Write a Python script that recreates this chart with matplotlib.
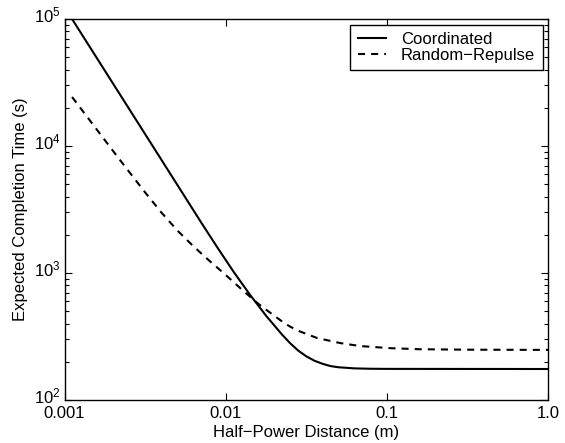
import matplotlib
matplotlib.use("Agg")
import matplotlib.pyplot as plt
from matplotlib.ticker import FixedLocator, FixedFormatter, LogLocator, NullLocator
from matplotlib.transforms import ScaledTranslation

plt.rcParams['font.family'] = ['Liberation Sans', 'DejaVu Sans']
plt.rcParams['mathtext.default'] = 'regular'

# Data
coord_x = [0.001114, 0.001995, 0.003162, 0.005012, 0.007079, 0.008913, 0.01122, 0.01413,
           0.01778, 0.02239, 0.02512, 0.02818, 0.03162, 0.03548, 0.03981, 0.04467,
           0.05012, 0.06310, 0.07943, 0.1, 1.0]
coord_y = [100000, 31190, 12420, 4943, 2477, 1578, 1019, 676,
           462, 327, 280, 245, 221, 204, 193, 185,
           181, 177.4, 176.2, 175.8, 175.4]

rand_x = [0.001114, 0.001585, 0.002208, 0.003162, 0.003981, 0.005012, 0.006310, 0.007943,
          0.01, 0.01259, 0.01585, 0.01995, 0.02259, 0.02512, 0.02884, 0.03681,
          0.05117, 0.06808, 0.1045, 0.1603, 0.3162, 1.0]
rand_y = [24320, 13490, 7762, 4315, 3006, 2163, 1622, 1245,
          966, 741, 575, 462, 412, 378, 347, 308,
          281, 266, 256, 251, 249, 248]

x_ticks = [0.001, 0.01, 0.1, 1.0]
x_tick_labels = ["0.001", "0.01", "0.1", "1.0"]
y_ticks = [1e2, 1e3, 1e4, 1e5]
y_tick_labels = [r"$10^{2}$", r"$10^{3}$", r"$10^{4}$", r"$10^{5}$"]

fig = plt.figure(figsize=(5.65, 4.43), dpi=100)
ax = fig.add_axes([64.5/565, 43/443, (548-64.5)/565, (400-19)/443])

ax.loglog(coord_x, coord_y, color='black', linewidth=1.5, linestyle='-', label='Coordinated')
ax.loglog(rand_x, rand_y, color='black', linewidth=1.5, linestyle=(0, (3.4, 2.9)),
          label='Random\u2212Repulse')

ax.set_xlim(0.001, 1.0)
ax.set_ylim(1e2, 1e5)

ax.xaxis.set_major_locator(FixedLocator(x_ticks))
ax.xaxis.set_major_formatter(FixedFormatter(x_tick_labels))
ax.xaxis.set_minor_locator(NullLocator())
ax.yaxis.set_major_locator(FixedLocator(y_ticks))
ax.yaxis.set_major_formatter(FixedFormatter(y_tick_labels))
ax.yaxis.set_minor_locator(LogLocator(base=10, subs=range(2, 10)))

ax.tick_params(which='both', direction='in', top=True, right=True, labelsize=12, width=0.8)
ax.tick_params(which='major', length=5, pad=3)
ax.tick_params(axis='x', which='major', pad=4)
ax.tick_params(which='minor', length=3)
for s in ax.spines.values():
    s.set_linewidth(1.0)

# nudge y tick labels up slightly so 10^2 clears 0.001
offset = ScaledTranslation(0, 5/100, fig.dpi_scale_trans)
for lbl in ax.get_yticklabels():
    lbl.set_transform(lbl.get_transform() + offset)

ax.set_xlabel('Half\u2212Power Distance (m)', fontsize=12, labelpad=3)
ax.set_ylabel('Expected Completion Time (s)', fontsize=12, labelpad=4)

leg = ax.legend(loc='upper right', fontsize=12, frameon=True, fancybox=False,
                edgecolor='black', framealpha=1, handlelength=1.7, borderpad=0.45,
                labelspacing=0.05, handletextpad=0.9, borderaxespad=0.33)
leg.get_frame().set_linewidth(1.0)

fig.savefig('out.png', dpi=100)
